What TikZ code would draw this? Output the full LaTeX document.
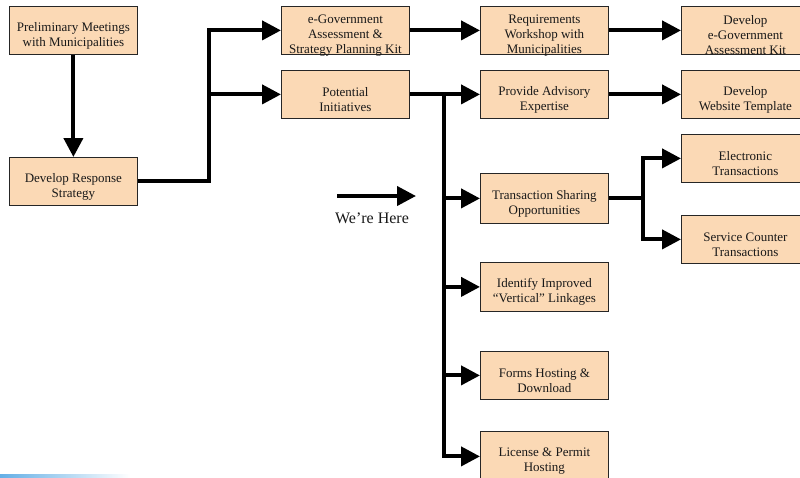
\documentclass[tikz,border=0pt]{standalone}
\usepackage{fontspec}
\setmainfont{Liberation Serif}
\usetikzlibrary{arrows.meta}
\definecolor{peach}{RGB}{251,217,181}
\definecolor{barblue}{RGB}{100,175,230}
\tikzset{
  x=1pt, y=-1pt,
  box/.style={draw=black!85, line width=0.8pt, fill=peach, minimum width=128pt,
              minimum height=48pt, inner sep=0pt, anchor=north west},
  txt/.style={align=center, font=\fontsize{13}{15}\selectfont, inner sep=0pt, text=black!90},
  conn/.style={line width=4pt, line join=miter, -{Triangle[length=19pt,width=19pt]}}
}
\newcommand{\boxtext}[2]{\node[txt] at ([yshift=-5pt]#1.center) {#2};}
\begin{document}
\begin{tikzpicture}
\clip (0,0) rectangle (800,477);
\fill[white] (0,0) rectangle (800,477);

% boxes
\node[box] (prelim) at (9,6) {};
\node[box] (resp)   at (9,157) {};
\node[box] (egov)   at (281,6) {};
\node[box] (pot)    at (281,70) {};
\node[box] (req)    at (480,6) {};
\node[box] (adv)    at (480,70) {};
\node[box] (kit)    at (681,6) {};
\node[box] (web)    at (681,70) {};
\node[box, minimum height=50pt] (trans) at (480,173) {};
\node[box] (elec)   at (681,134) {};
\node[box] (serv)   at (681,215) {};
\node[box, minimum height=49pt] (ident) at (480,262) {};
\node[box] (forms)  at (480,351) {};
\node[box, minimum height=50pt] (lic) at (480,431) {};

\boxtext{prelim}{Preliminary Meetings\\with Municipalities}
\boxtext{resp}{Develop Response\\Strategy}
\boxtext{egov}{e-Government\\Assessment \&\\Strategy Planning Kit}
\boxtext{pot}{Potential\\Initiatives}
\boxtext{req}{Requirements\\Workshop with\\Municipalities}
\boxtext{adv}{Provide Advisory\\Expertise}
\boxtext{kit}{Develop\\e-Government\\Assessment Kit}
\boxtext{web}{Develop\\Website Template}
\boxtext{trans}{Transaction Sharing\\Opportunities}
\boxtext{elec}{Electronic\\Transactions}
\boxtext{serv}{Service Counter\\Transactions}
\boxtext{ident}{Identify Improved\\“Vertical” Linkages}
\boxtext{forms}{Forms Hosting \&\\Download}
\boxtext{lic}{License \& Permit\\Hosting}

% junction points (x positions of the vertical runs)
\coordinate (j1) at (209,0);
\coordinate (t)  at (444,0);
\coordinate (j2) at (643,0);

% connectors
\draw[conn] (prelim.south) -- (resp.north);
\draw[conn] (resp.east) -- (resp.east -| j1) |- (egov.west);
\draw[conn] (resp.east -| j1) |- (pot.west);
\draw[conn] (egov.east) -- (req.west);
\draw[conn] (req.east) -- (kit.west);
\draw[conn] (pot.east) -- (adv.west);
\draw[conn] (adv.east) -- (web.west);
\draw[conn] (pot.east -| t) |- (trans.west);
\draw[conn] (pot.east -| t) |- (ident.west);
\draw[conn] (pot.east -| t) |- (forms.west);
\draw[conn] (pot.east -| t) |- (lic.west);
\draw[conn] (trans.east) -- (trans.east -| j2) |- (elec.west);
\draw[conn] (trans.east -| j2) |- (serv.west);

% "We're Here" marker
\coordinate (wa) at (337,196);
\coordinate (wb) at (416,196);
\draw[conn] (wa) -- (wb);
\node[txt, font=\fontsize{16}{18}\selectfont] (here) at (372,218) {We’re Here};

% fading strip along the bottom edge
\shade[left color=barblue, right color=white] (0,474) rectangle (130,477);
\end{tikzpicture}
\end{document}
